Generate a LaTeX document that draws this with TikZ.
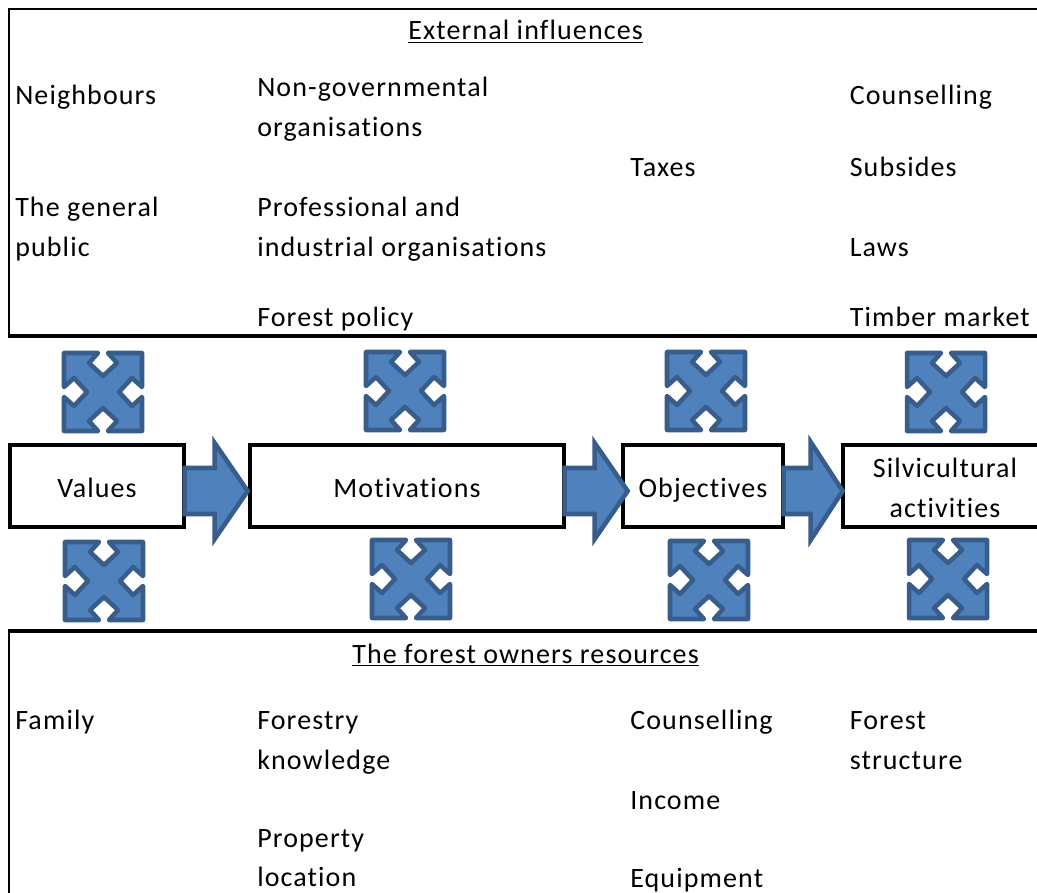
\documentclass[tikz,border=0pt]{standalone}
\usepackage{fontspec}
\setmainfont{Carlito}[LetterSpace=4,Ligatures=NoCommon]
\definecolor{blueF}{HTML}{4F81BD}
\definecolor{blueD}{HTML}{385D8A}
\newcommand{\fs}{\fontsize{21}{30}\selectfont}
\newcommand{\bs}{\rule[-6.75pt]{0pt}{30pt}}
\tikzset{
  x=0.75pt,y=-0.75pt,
  frameline/.style={line width=3pt,black,line cap=butt,line join=miter},
  thinframe/.style={line width=1.8pt,black,line cap=butt,line join=miter},
  stepbox/.style={draw=black,line width=3pt,fill=white,minimum height=61.5pt,inner sep=0pt,align=center,font=\fs,text=black},
  lbl/.style={anchor=base west,inner sep=0pt,font=\fs,text=black,align=left},
  blueshape/.style={fill=blueF,draw=blueD,line width=3.4pt},
  flow/.pic={\path[blueshape,line join=miter] (0,-23) -- (30,-23) -- (30,-48) -- (63,0) -- (30,48) -- (30,23) -- (0,23) -- cycle;},
  flowshort/.pic={\path[blueshape,line join=miter] (0,-23) -- (27,-23) -- (27,-49) -- (59,0) -- (27,49) -- (27,23) -- (0,23) -- cycle;},
  cross/.pic={\path[blueshape,line join=round] (-39,-39) -- (-5,-39) -- (-14,-29) -- (0,-16) -- (14,-29) -- (5,-39) -- (39,-39) -- (39,-5) -- (29,-14) -- (16,0) -- (29,14) -- (39,5) -- (39,39) -- (5,39) -- (14,29) -- (0,16) -- (-14,29) -- (-5,39) -- (-39,39) -- (-39,5) -- (-29,14) -- (-16,0) -- (-29,-14) -- (-39,-5) -- cycle;},
}
\begin{document}
\begin{tikzpicture}
\useasboundingbox (0,0) rectangle (1037,892);
\fill[white] (0,0) rectangle (1037,892);
\coordinate (tr) at (1040,9);
\coordinate (t0) at (9,9);
\coordinate (t1) at (9,336);
\coordinate (t1a) at (8,336);
\coordinate (t2) at (1040,336);
\coordinate (b0) at (9,895);
\coordinate (b1) at (9,631);
\coordinate (b1a) at (8,631);
\coordinate (b2) at (1040,631);
\draw[thinframe] (tr) -- (t0) -- (t1);
\draw[thinframe] (b1) -- (b0);
\draw[frameline] (t1a) -- (t2);
\draw[frameline] (b1a) -- (b2);
% upper texts
\node[lbl] (ext) at (408,40) {\underline{External influences}};
\node[lbl] (n1) at (15,104) {Neighbours};
\node[lbl] (n2) at (257,96) {Non-governmental};
\node[lbl] (n3) at (257,136) {organisations};
\node[lbl] (n4) at (630,176) {Taxes};
\node[lbl] (n5) at (849.5,104) {Counselling};
\node[lbl] (n6) at (849.5,176) {Subsides};
\node[lbl] (n7) at (15,216) {The general};
\node[lbl] (n8) at (15,256) {public};
\node[lbl] (n9) at (257,216) {Professional and};
\node[lbl] (n10) at (257,256) {industrial organisations};
\node[lbl] (n11) at (849.5,256) {Laws};
\node[lbl] (n12) at (257,326) {Forest policy};
\node[lbl] (n13) at (849.5,326) {Timber market};
% lower texts
\node[lbl] (res) at (352,663) {\underline{The forest owners resources}};
\node[lbl] (m1) at (15,729) {Family};
\node[lbl] (m2) at (257,729) {Forestry};
\node[lbl] (m3) at (257,769) {knowledge};
\node[lbl] (m4) at (630,729) {Counselling};
\node[lbl] (m5) at (849.5,729) {Forest};
\node[lbl] (m6) at (849.5,769) {structure};
\node[lbl] (m7) at (630,809) {Income};
\node[lbl] (m8) at (257,847) {Property};
\node[lbl] (m9) at (257,886) {location};
\node[lbl] (m10) at (630,887) {Equipment};
% boxes
\node[stepbox,minimum width=130.5pt] (values) at (97,486) {\bs Values};
\node[stepbox,minimum width=235.5pt] (motiv) at (407,486) {\bs Motivations};
\node[stepbox,minimum width=120pt] (obj) at (703,486) {\bs Objectives};
\node[stepbox,minimum width=153pt] (silv) at (945,486) {\bs Silvicultural\\\bs activities};
% arrows
\pic at ([xshift=-1pt,yshift=-3.75pt]values.east) {flow};
\pic at ([xshift=-1pt,yshift=-3.75pt]motiv.east) {flow};
\pic at ([xshift=-1pt,yshift=-3.75pt]obj.east) {flowshort};
% crosses
\pic at (103,392) {cross};
\pic at (405,391) {cross};
\pic at (706,391) {cross};
\pic at (946,392) {cross};
\pic at (104,581) {cross};
\pic at (411,579) {cross};
\pic at (709,580) {cross};
\pic at (948,579) {cross};
\end{tikzpicture}
\end{document}
